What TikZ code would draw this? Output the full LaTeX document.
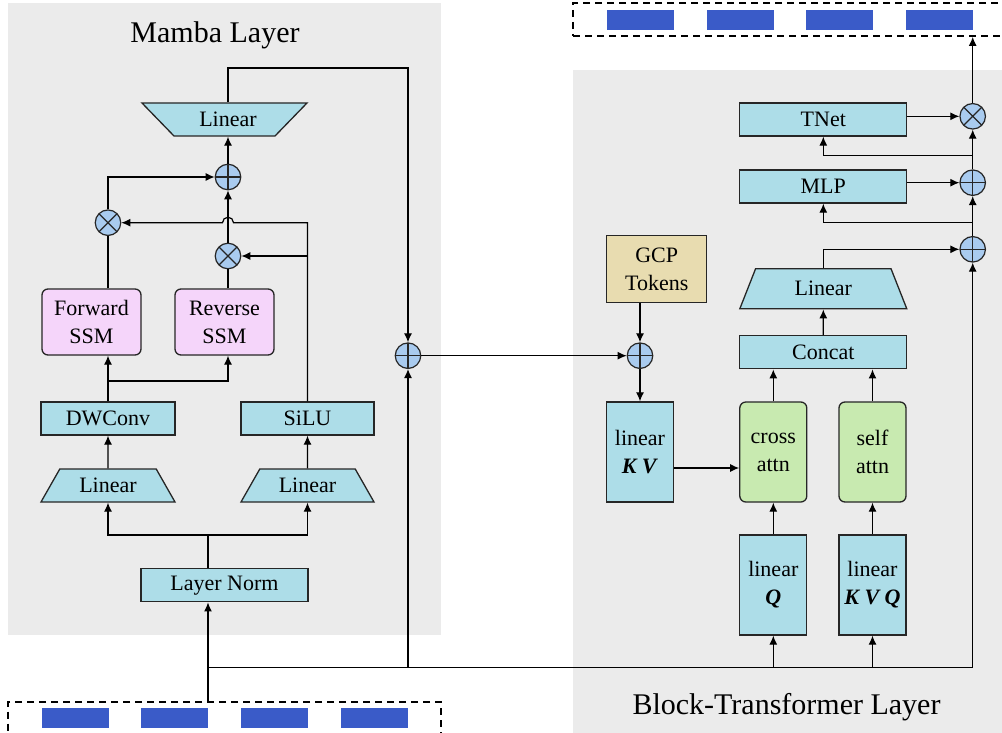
\documentclass[tikz,border=0pt]{standalone}
\usepackage{fontspec}
\setmainfont{Liberation Serif}
\usetikzlibrary{shapes.geometric, arrows.meta, calc}

\definecolor{panelgray}{HTML}{EBEBEB}
\definecolor{boxblue}{HTML}{ADDDE8}
\definecolor{ssmpink}{HTML}{F5D5FA}
\definecolor{gcptan}{HTML}{E8DCB0}
\definecolor{attngreen}{HTML}{C8EAB0}
\definecolor{opblue}{HTML}{A9CBEF}
\definecolor{tokblue}{HTML}{3A5BC8}

\begin{document}
\begin{tikzpicture}[x=1pt, y=-1pt,
    box/.style={draw=black!85, line width=1.3pt, fill=boxblue, inner sep=2pt,
        font=\rmfamily\fontsize{22}{28}\selectfont, align=center},
    flat/.style={box, minimum height=33pt},
    tall/.style={box, minimum width=67pt, minimum height=100pt},
    ssm/.style={box, fill=ssmpink, rounded corners=6pt, minimum width=99pt, minimum height=66pt},
    attn/.style={tall, fill=attngreen, rounded corners=6pt},
    trap/.style={box, trapezium, trapezium stretches body=true, minimum height=33pt},
    op/.style={circle, draw=black!85, line width=1.2pt, fill=opblue, minimum size=25.5pt, inner sep=0pt},
    oplus/.style={op, path picture={\draw[line width=1.2pt]
        (path picture bounding box.north) -- (path picture bounding box.south)
        (path picture bounding box.west) -- (path picture bounding box.east);}},
    otimes/.style={op, path picture={\draw[line width=1.2pt]
        (path picture bounding box.north west) -- (path picture bounding box.south east)
        (path picture bounding box.north east) -- (path picture bounding box.south west);}},
    conn/.style={line width=1.2pt},
    arr/.style={conn, -{Latex[length=9pt,width=8pt]}},
    tokbox/.style={draw, dash pattern=on 7pt off 5pt, line width=1.8pt},
    tok/.style={fill=tokblue, minimum width=67pt, minimum height=20pt, inner sep=0pt},
    title/.style={font=\rmfamily\fontsize{30}{36}\selectfont, anchor=base}
]
    \clip (0,0) rectangle (1002,733);

    % panels
    \fill[panelgray] (8,3) rectangle (441,635);
    \fill[panelgray] (573,70) rectangle (1002,733);
    \node[title] (mtitle) at (215,43) {Mamba Layer};
    \node[title] (btitle) at (786.5,714) {Block-Transformer Layer};

    % token strips
    \node[tokbox, minimum width=433pt, minimum height=60pt] (inbox) at (224.5,731.7) {};
    \foreach \x in {75.5,174.5,274.5,374.5}
        \node[tok] at (\x,718) {};
    \node[tokbox, minimum width=460pt, minimum height=33pt] (outbox) at (803,19.5) {};
    \foreach \x in {640.5,740.5,839.5,939.5}
        \node[tok] at (\x,20) {};

    % Mamba layer
    \node[flat, minimum width=167pt] (ln) at (224.5,585.3) {Layer Norm};
    \node[trap, trapezium left angle=45, trapezium right angle=45, minimum width=134pt] (linL) at (108,485.5) {Linear};
    \node[trap, trapezium left angle=45, trapezium right angle=45, minimum width=133pt] (linR) at (307.5,485.5) {Linear};
    \node[flat, minimum width=134pt] (dw) at (108,418.5) {DWConv};
    \node[flat, minimum width=133pt] (silu) at (307.5,418.5) {SiLU};
    \node[ssm] (fwd) at (91.5,322) {Forward\\SSM};
    \node[ssm] (rev) at (224.5,322) {Reverse\\SSM};
    \node[otimes] (tm1) at (108,222.7) {};
    \node[otimes] (tm2) at (228,256) {};
    \node[oplus] (pl1) at (228,177) {};
    % wide-top linear
    \filldraw[fill=boxblue, draw=black!85, line width=1.3pt]
        (142,103) -- (307,103) -- (275,136) -- (174,136) -- cycle;
    \node[box, draw=none, fill=none, minimum height=33pt] (lin3) at (228,119.5) {Linear};
    \node[oplus] (pl2) at (408,355.7) {};

    \coordinate (tap) at (208,667.7);
    \coordinate (split1) at (208,535);
    \coordinate (split2) at (108,381);
    \coordinate (turn) at (408,68);

    \draw[arr] (tap |- inbox.north) -- (tap |- ln.south);
    \draw[conn] (tap |- ln.north) -- (split1);
    \draw[arr] (split1) -| (linL.south);
    \draw[arr] (split1) -| (linR.south);
    \draw[arr] (linL) -- (dw);
    \draw[arr] (linR) -- (silu);
    \draw[arr] (dw.north) -- (fwd.south -| dw.north);
    \draw[arr] (split2) -| (rev.south -| tm2);
    \draw[conn] (fwd.north -| tm1) -- (tm1.south);
    \draw[conn] (rev.north -| tm2) -- (tm2.south);
    \draw[arr] (silu.north) |- ($(tm2 |- tm1)+(5.5,0)$)
        arc[start angle=0, end angle=-180, radius=5.5] -- (tm1.east);
    \draw[arr] (silu.north |- tm2) -- (tm2.east);
    \draw[arr] (tm2.north) -- (pl1.south);
    \draw[arr] (tm1.north) |- (pl1.west);
    \draw[arr] (pl1.north) -- (lin3.south);
    \draw[arr] (lin3.north) |- (turn) -- (pl2.north);
    \draw[arr] (pl2 |- tap) -- (pl2.south);

    % Block-Transformer layer
    \node[box, fill=gcptan, minimum width=100pt, minimum height=67pt] (gcp) at (656.7,269.3) {GCP\\Tokens};
    \node[oplus] (pl3) at (640,355.7) {};
    \node[tall] (linkv) at (640,452) {linear\\\textbf{\textit{K V}}};
    \node[attn] (cross) at (773.3,452) {cross\\attn};
    \node[attn] (self) at (872.5,452) {self\\attn};
    \node[tall] (linq) at (773.3,585) {linear\\\textbf{\textit{Q}}};
    \node[tall] (linkvq) at (872.5,585) {linear\\\textbf{\textit{K V Q}}};
    \node[flat, minimum width=167pt] (concat) at (823.3,352.3) {Concat};
    \node[trap, trapezium left angle=50, trapezium right angle=50, minimum width=167pt, minimum height=40pt] (lin4) at (823.3,288.8) {Linear};
    \node[flat, minimum width=167pt] (mlp) at (823.3,186.5) {MLP};
    \node[flat, minimum width=167pt] (tnet) at (823.3,119.5) {TNet};
    \node[oplus] (pl5) at (972.7,249.3) {};
    \node[oplus] (pl4) at (972.7,182.7) {};
    \node[otimes] (tm3) at (972.7,116.3) {};

    \draw[arr] (tap) -| (pl5.south);
    \draw[arr] (pl2) -- (pl3);
    \draw[arr] (gcp.south -| pl3) -- (pl3.north);
    \draw[arr] (pl3.south) -- (linkv.north);
    \draw[arr] ($(linkv.east)+(0,16)$) -- ($(cross.west)+(0,16)$);
    \draw[arr] (linq |- tap) -- (linq.south);
    \draw[arr] (linkvq |- tap) -- (linkvq.south);
    \draw[arr] (linq) -- (cross);
    \draw[arr] (linkvq) -- (self);
    \draw[arr] (cross.north) -- (cross.north |- concat.south);
    \draw[arr] (self.north) -- (self.north |- concat.south);
    \draw[arr] (concat) -- (lin4);
    \draw[arr] (lin4.north) |- (pl5.west);
    \draw[arr] (pl5) -- (pl4);
    \draw[arr] (pl4) -- (tm3);
    \draw[arr] (mlp.east |- pl4) -- (pl4.west);
    \draw[arr] (tnet.east |- tm3) -- (tm3.west);
    \draw[arr] (pl5.north |- 0,222.3) -| (mlp.south);
    \draw[arr] (pl4.north |- 0,155.7) -| (tnet.south);
    \draw[arr] (tm3.north) -- (tm3.north |- outbox.south);
\end{tikzpicture}
\end{document}
